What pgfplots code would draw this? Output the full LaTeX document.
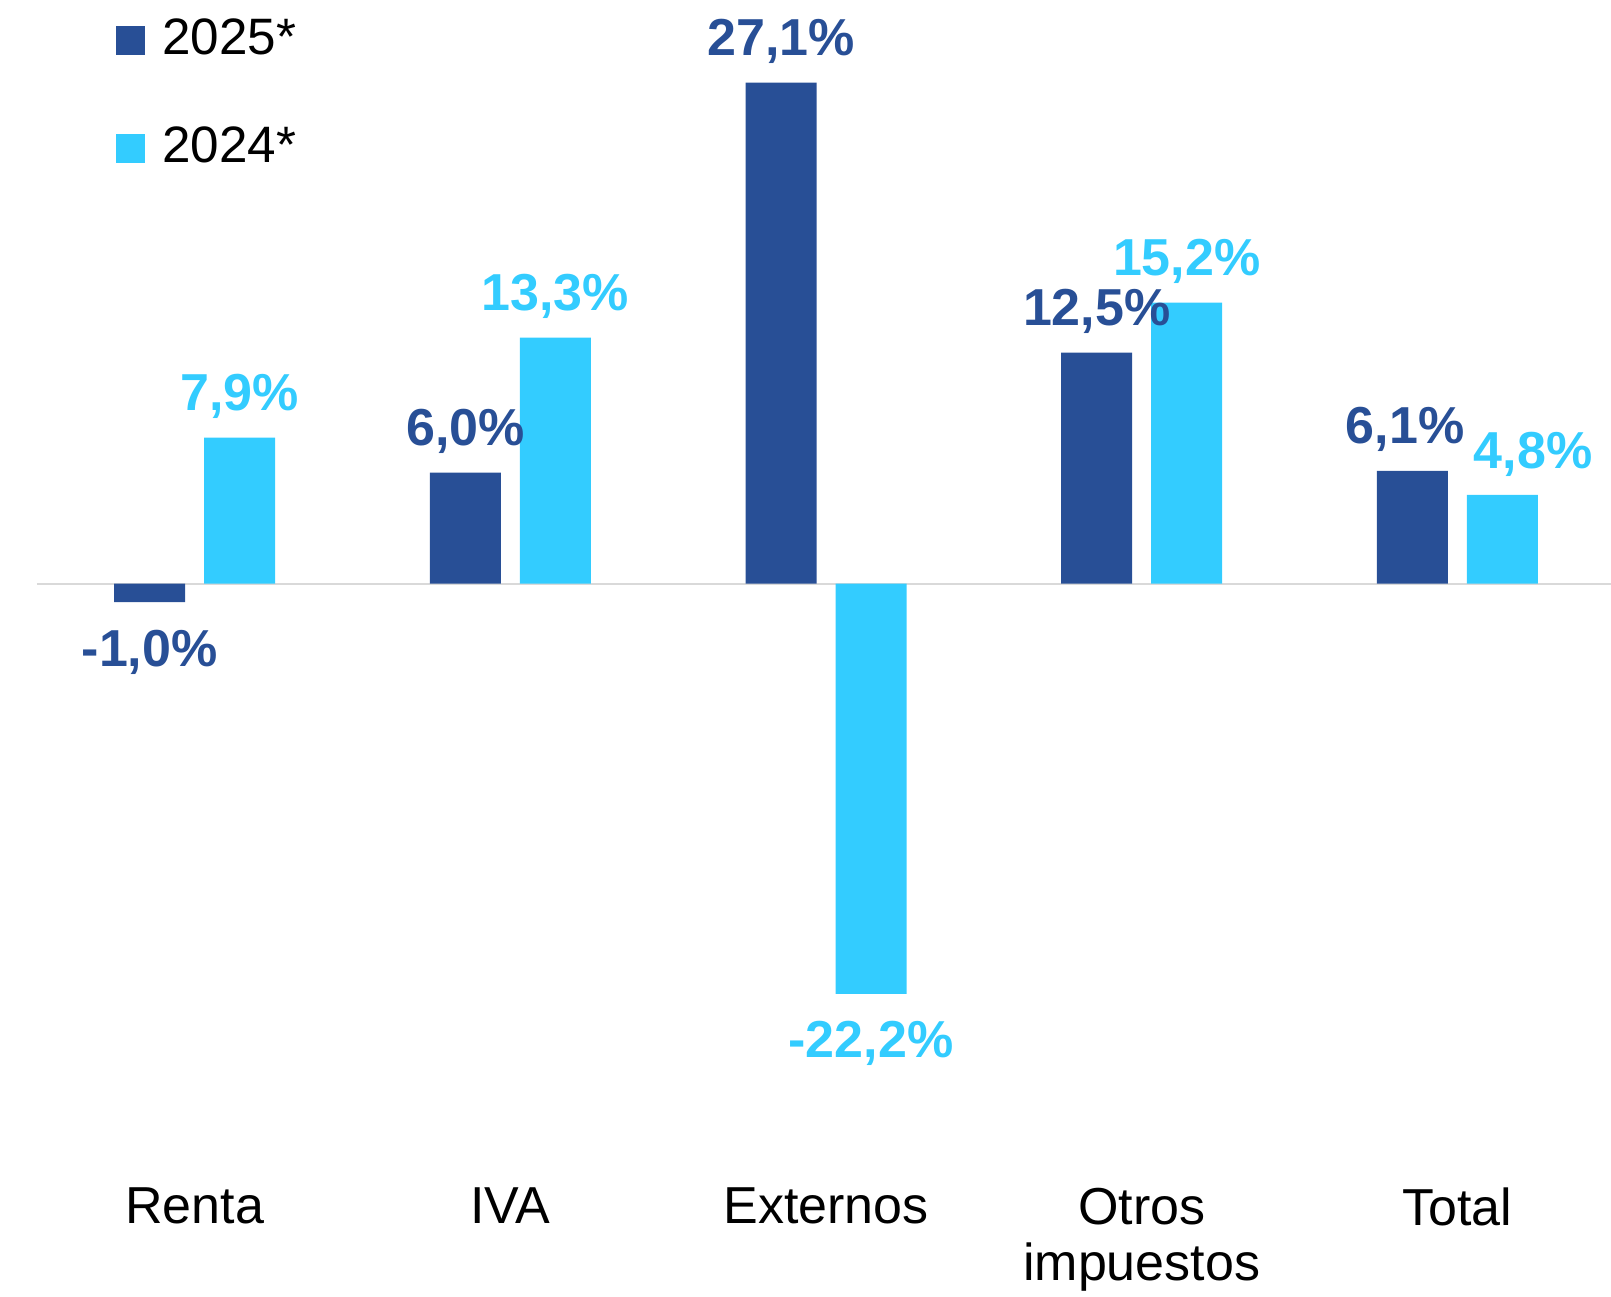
\documentclass[border=0pt]{standalone}
\usepackage{fontspec}
\setmainfont{Liberation Sans}
\usepackage{pgfplots}
\pgfplotsset{compat=1.18}
\definecolor{c25}{HTML}{284F96}
\definecolor{c24}{HTML}{33CCFF}

\begin{document}
\begin{tikzpicture}
\begin{axis}[
    x=78.92pt, y=4.62pt,
    xmin=-0.5, xmax=4.5,
    ymin=-32.67, ymax=31.6,
    ybar=4.75pt,
    bar width=17.75pt,
    axis line style={draw=none},
    ytick=\empty,
    xtick={0,...,4},
    xticklabels={Renta,IVA,Externos,{Otros\\impuestos},Total},
    major tick length=0pt,
    xticklabel style={anchor=north, inner sep=0pt, align=center,
        font=\fontsize{13}{14}\selectfont},
    extra y ticks={0},
    extra y tick labels={},
    extra y tick style={grid=major, major grid style={draw=black!15, line width=0.5pt}},
    clip=false,
    nodes near coords={\pgfmathprintnumber[fixed, fixed zerofill, precision=1,
        use comma, assume math mode=true]{\pgfplotspointmeta}\%},
    nodes near coords align={vertical},
    every node near coord/.append style={font=\bfseries\fontsize{13}{15}\selectfont,
        inner xsep=0pt, inner ysep=6.5pt, text height=9.3pt, text depth=0pt},
    legend style={at={(rel axis cs:0,1)}, anchor=north west,
        xshift=19.7pt, yshift=-4.5pt, draw=none, fill=none,
        inner sep=0pt, font=\fontsize{12.8}{15}\selectfont,
        row sep=17.9pt, column sep=4.2pt,
        nodes={inner sep=0pt, text height=9.1pt, text depth=0pt}},
    legend cell align=left,
    legend image code/.code={\fill[#1] (0pt,-4.6pt) rectangle (7.25pt,2.65pt);},
]
% 2025*
\addplot[fill=c25, draw=none, every node near coord/.append style={text=c25},
    coordinate style/.condition={x==4}{xshift=-1.8pt}]
    coordinates {(0,-1.0) (1,6.0) (2,27.1) (3,12.5) (4,6.1)};
% 2024*
\addplot[fill=c24, draw=none, every node near coord/.append style={text=c24},
    coordinate style/.condition={x==4}{xshift=7.7pt}]
    coordinates {(0,7.9) (1,13.3) (2,-22.2) (3,15.2) (4,4.8)};
\legend{2025*, 2024*}
\end{axis}
\pgfresetboundingbox
\path ([shift={(-9.21pt,-27.43pt)}]current axis.south west) rectangle ++(402.75pt,324.25pt);
\end{tikzpicture}
\end{document}
